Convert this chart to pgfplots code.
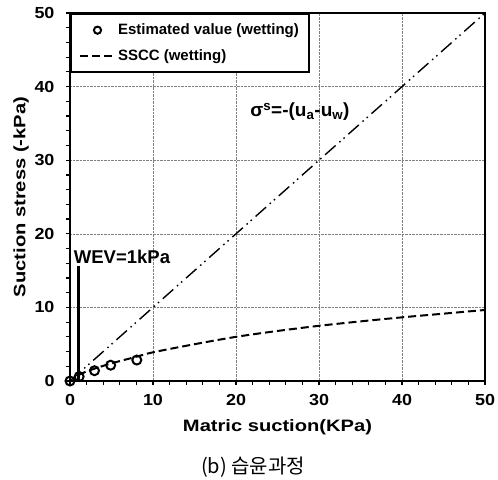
\documentclass[border=0pt]{standalone}
\usepackage{pgfplots}
\pgfplotsset{compat=1.18}
\usepackage{fontspec}
\setmainfont{Liberation Sans}
\newfontfamily\labfont{Liberation Sans}[FakeStretch=1.22]
\newfontfamily\tickfont{Liberation Sans}[FakeStretch=1.12]
\newfontfamily\kr{Noto Sans CJK KR}
\pgfplotsset{
  circleg/.style={legend image code/.code={\draw[mark repeat=2,mark phase=2,##1, mark size=3.6pt] plot coordinates {(0pt,0pt) (17.5pt,0pt) (35pt,0pt)};}},
  lineleg/.style={legend image code/.code={\draw[##1] (0pt,0pt) -- (35pt,0pt);}},
}
\begin{document}
\begin{tikzpicture}
\begin{axis}[name=ax, scale only axis, width=415pt, height=368pt,
  xmin=0, xmax=50, ymin=0, ymax=50,
  xtick={0,10,...,50}, ytick={0,10,...,50},
  minor x tick num=4, minor y tick num=4,
  tick align=outside, xtick pos=left, ytick pos=left,
  grid=major, major grid style={densely dotted, gray, line width=0.6pt},
  axis line style={line width=2pt},
  major tick length=4pt, minor tick length=4pt,
  every tick/.style={black, line width=1.2pt},
  /pgf/number format/assume math mode=true,
  tick label style={font=\tickfont\fontsize{16}{18}\selectfont\bfseries},
  xticklabel style={yshift=-6pt},
  yticklabel style={xshift=-8pt},
  xlabel={Matric suction(KPa)}, ylabel={Suction stress (-kPa)},
  label style={font=\labfont\fontsize{16.5}{19}\selectfont\bfseries},
  xlabel style={at={(axis description cs:0.5,-0.125)}, anchor=center},
  ylabel style={at={(axis description cs:-0.118,0.5)}, anchor=center},
  legend cell align=left,
  legend style={at={(axis description cs:0,1)}, anchor=north west, draw=black, line width=2pt, fill=white,
    font=\fontsize{15}{17}\selectfont\bfseries, inner xsep=8pt, inner ysep=8pt, row sep=9pt},
]
\addplot[black, line width=1.4pt, dash pattern=on 14pt off 5pt on 1.5pt off 4pt on 1.5pt off 5pt, forget plot]
  coordinates {(0,0) (50,50)};
\addplot[black, line width=2.4pt, forget plot] coordinates {(1,0) (1,15.6)};
\addplot[only marks, black, mark=o, mark size=4.5pt, mark options={line width=2pt}, circleg]
  coordinates {(0,0) (1.1,0.6) (2.95,1.4) (4.9,2.15) (8.05,2.85)};
\addlegendentry{Estimated value (wetting)}
\addplot[black, line width=2pt, dash pattern=on 8pt off 4pt, smooth, lineleg]
  coordinates {(1,0.8) (2,1.3) (3,1.7) (5,2.4) (8,3.3) (10,3.9) (15,5.0) (20,6.0) (25,6.8) (30,7.5) (35,8.1) (40,8.65) (45,9.15) (50,9.65)};
\addlegendentry{SSCC (wetting)}
\node[font=\fontsize{18.5}{20}\selectfont\bfseries, anchor=base west, inner sep=0pt] at (axis cs:0.45,16.0) {WEV=1kPa};
\node[font=\fontsize{19}{22}\selectfont\bfseries, anchor=base west, inner sep=0pt] at (axis cs:21.7,35.9) {σ\textsuperscript{s}=-(u\textsubscript{a}-u\textsubscript{w})};
\end{axis}
\node[font=\kr\fontsize{20}{24}\selectfont, anchor=center] at ([xshift=183pt, yshift=-86pt]ax.south west) {(b) 습윤과정};
\pgfresetboundingbox
\path[use as bounding box] ([shift={(-70pt,-98pt)}]ax.south west) rectangle ([shift={(13pt,13pt)}]ax.north east);
\end{tikzpicture}
\end{document}
